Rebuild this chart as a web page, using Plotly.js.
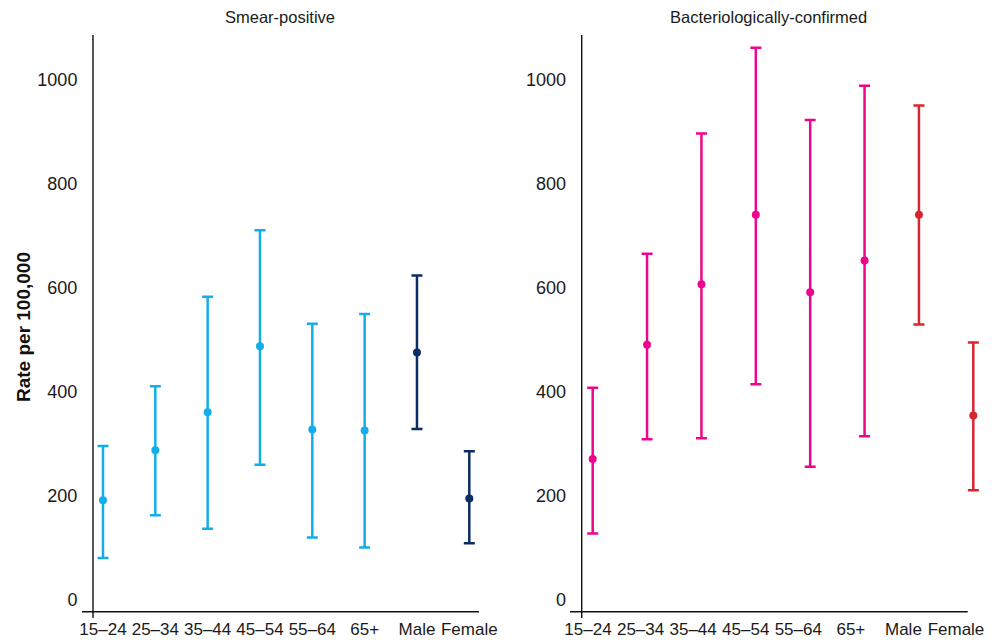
<!DOCTYPE html>
<html>
<head>
<meta charset="utf-8">
<script src="https://cdn.plot.ly/plotly-3.0.1.min.js"></script>
<style>html,body{margin:0;padding:0;background:#fff;}#chart{width:997px;height:642px;}</style>
</head>
<body>
<div id="chart"></div>
<script>
// ---- data ----
var ageGroups = ["15–24", "25–34", "35–44", "45–54", "55–64", "65+"];
var sexGroups = ["Male", "Female"];
var categories = ageGroups.concat(sexGroups);

// Smear-positive
var smearAge = [192, 288, 361, 488, 328, 326];
var smearAgeLow = [81, 163, 137, 260, 120, 101];
var smearAgeHigh = [296, 411, 583, 711, 531, 550];
var smearSex = [476, 195];
var smearSexLow = [329, 109];
var smearSexHigh = [624, 286];

// Bacteriologically-confirmed
var bactAge = [271, 491, 607, 741, 592, 653];
var bactAgeLow = [128, 309, 311, 415, 256, 315];
var bactAgeHigh = [408, 666, 897, 1062, 923, 989];
var bactSex = [741, 355];
var bactSexLow = [530, 211];
var bactSexHigh = [951, 495];

var yTickVals = [0, 200, 400, 600, 800, 1000];
var panelTitles = ["Smear-positive", "Bacteriologically-confirmed"];
var yTitle = "Rate per 100,000";

// ---- helpers ----
function diff(a, b) { return a.map(function (v, i) { return v - b[i]; }); }
function errTrace(x, y, lo, hi, color, xa, ya) {
  return {
    type: 'scatter', mode: 'markers', x: x, y: y, xaxis: xa, yaxis: ya,
    cliponaxis: false, hoverinfo: 'x+y', showlegend: false,
    marker: { color: color, size: 8 },
    error_y: { type: 'data', symmetric: false, array: diff(hi, y), arrayminus: diff(y, lo),
      color: color, thickness: 2.5, width: 5.5 }
  };
}

var cLight = '#13aeea', cNavy = '#0b2d63', cMag = '#ec068d', cRed = '#d7262e';
var traces = [
  errTrace(ageGroups, smearAge, smearAgeLow, smearAgeHigh, cLight, 'x', 'y'),
  errTrace(sexGroups, smearSex, smearSexLow, smearSexHigh, cNavy, 'x', 'y'),
  errTrace(ageGroups, bactAge, bactAgeLow, bactAgeHigh, cMag, 'x2', 'y2'),
  errTrace(sexGroups, bactSex, bactSexLow, bactSexHigh, cRed, 'x2', 'y2'),
  // empty helper trace carrying the right panel's tick-label axis
  { type: 'scatter', mode: 'markers', x: [], y: [], xaxis: 'x3', yaxis: 'y2', showlegend: false, hoverinfo: 'skip' }
];

var W = 997, H = 642;
function px(x) { return x / W; }
function py(y) { return 1 - y / H; }

var FAM = '"Liberation Sans", Arial, sans-serif';
var tickFontY = { family: FAM, size: 18, color: '#1a1a1a' };
var tickFontX = { family: FAM, size: 17, color: '#1a1a1a' };
var yRange = [-22.5, 1086.5];
var yDom = [py(611.7), py(35)];

function xAxis(dom, rng) {
  return { type: 'category', categoryorder: 'array', categoryarray: categories,
    domain: dom, range: rng, showgrid: false, zeroline: false, showline: false,
    tickangle: 0, ticks: 'outside', ticklen: 2, tickcolor: 'rgba(0,0,0,0)', tickfont: tickFontX, fixedrange: true };
}
function yAxis(anchor) {
  return { domain: yDom, range: yRange, anchor: anchor, tickvals: yTickVals, ticktext: yTickVals.map(String),
    showgrid: false, zeroline: false, showline: false,
    ticks: 'outside', ticklen: 11, tickcolor: 'rgba(0,0,0,0)', tickfont: tickFontY, fixedrange: true };
}

var lineStyle = { color: '#111', width: 1.4 };
function seg(x0, y0, x1, y1) {
  return { type: 'line', xref: 'paper', yref: 'paper', x0: px(x0), y0: py(y0), x1: px(x1), y1: py(y1), line: lineStyle, layer: 'below' };
}

var rightDom = [px(581.7), px(985)];
var layout = {
  width: W, height: H,
  margin: { l: 0, r: 0, t: 0, b: 0 },
  paper_bgcolor: '#fff', plot_bgcolor: 'rgba(0,0,0,0)',
  font: { family: FAM, color: '#1a1a1a' },
  showlegend: false,
  xaxis: xAxis([px(93), px(485)], [-0.191, 7.3]),
  yaxis: yAxis('x'),
  xaxis2: Object.assign(xAxis(rightDom, [-0.2023, 7.215]), { anchor: 'y2', showticklabels: false }),
  yaxis2: yAxis('x2'),
  xaxis3: { type: 'linear', domain: rightDom, range: [-0.12, 7.552], anchor: 'y2', overlaying: 'x2',
    tickmode: 'array', tickvals: categories.map(function (c, i) { return i; }), ticktext: categories,
    showgrid: false, zeroline: false, showline: false, tickangle: 0,
    ticks: 'outside', ticklen: 2, tickcolor: 'rgba(0,0,0,0)', tickfont: tickFontX, fixedrange: true },
  shapes: [
    seg(82, 611.7, 479, 611.7), seg(93, 35, 93, 618),
    seg(570, 611.7, 967.7, 611.7), seg(581.7, 35, 581.7, 618)
  ],
  annotations: [
    { text: panelTitles[0], xref: 'paper', yref: 'paper', x: px(280), y: py(17), showarrow: false,
      xanchor: 'center', yanchor: 'middle', font: { family: FAM, size: 16.5, color: '#1a1a1a' } },
    { text: panelTitles[1], xref: 'paper', yref: 'paper', x: px(768), y: py(17), showarrow: false,
      xanchor: 'center', yanchor: 'middle', font: { family: FAM, size: 16.5, color: '#1a1a1a' } },
    { text: '<b>' + yTitle + '</b>', xref: 'paper', yref: 'paper', x: px(23), y: py(327), showarrow: false,
      textangle: -90, xanchor: 'center', yanchor: 'middle', font: { family: FAM, size: 19, color: '#111' } }
  ]
};

Plotly.newPlot('chart', traces, layout, { displayModeBar: false, staticPlot: true });
</script>
</body>
</html>
